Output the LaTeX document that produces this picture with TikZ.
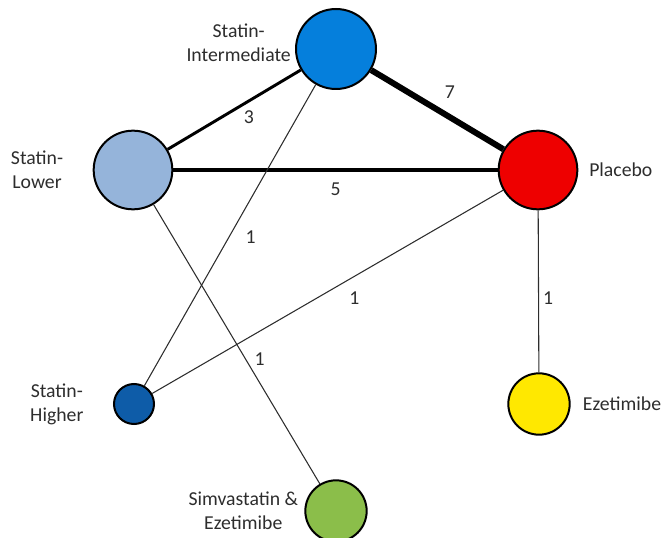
\documentclass[tikz,border=0pt]{standalone}
\usepackage{fontspec}
\setmainfont{Carlito}
\usepackage{xcolor}
\usetikzlibrary{positioning}

\definecolor{interblue}{RGB}{5,127,220}
\definecolor{lowblue}{RGB}{149,180,218}
\definecolor{highblue}{RGB}{14,92,168}
\definecolor{placred}{RGB}{238,0,0}
\definecolor{ezeyellow}{RGB}{255,232,0}
\definecolor{simgreen}{RGB}{139,190,74}
\definecolor{txtgray}{RGB}{45,45,45}

\tikzset{
  trt/.style={circle, draw=black, line width=1.5pt, inner sep=0pt},
  txt/.style={align=center, inner sep=0pt, text=txtgray},
  lbl/.style={inner sep=1pt, text=txtgray},
  w7/.style={line width=4.5pt},
  w5/.style={line width=3pt},
  w3/.style={line width=2.2pt},
  w1/.style={line width=0.8pt, draw=txtgray}
}

\begin{document}
\begin{tikzpicture}[x=0.75pt, y=-0.75pt, font=\fontsize{14.8pt}{18pt}\selectfont]
	\useasboundingbox (0,0) rectangle (663,538);
	% treatments
	\node [trt, fill=interblue, minimum size=60pt] (inter) at (336,49) {};
	\node [trt, fill=lowblue, minimum size=59pt] (low) at (133,170) {};
	\node [trt, fill=placred, minimum size=59pt] (plac) at (538,170) {};
	\node [trt, fill=highblue, minimum size=30pt] (high) at (134,404) {};
	\node [trt, fill=ezeyellow, minimum size=46pt] (eze) at (539,404) {};
	\node [trt, fill=simgreen, minimum size=46pt] (sim) at (336,511) {};
	% names
	\node [txt, left=3pt of inter, yshift=5pt] (intertxt) {Statin-\\Intermediate};
	\node [txt, left=22pt of low] (lowtxt) {Statin-\\Lower};
	\node [txt, right=8pt of plac] (plactxt) {Placebo};
	\node [txt, left=22pt of high] (hightxt) {Statin-\\Higher};
	\node [txt, right=9pt of eze] (ezetxt) {Ezetimibe};
	\node [txt, left=4.5pt of sim] (simtxt) {Simvastatin \&\\Ezetimibe};
	% comparisons
	\draw [w3] (low) -- node [lbl, pos=.61, below=5pt] {3} (inter);
	\draw [w7] (inter) -- node [lbl, pos=.595, above=11pt] {7} (plac);
	\draw [w5] (low) -- node [lbl, pos=.5, below=7pt] {5} (plac);
	\draw [w1] (inter) -- node [lbl, pos=.505, right=11pt] {1} (high);
	\draw [w1] (plac) -- node [lbl, pos=.424, below=10.5pt] {1} (high);
	\draw [w1] (low) -- node [lbl, pos=.552, right=5.5pt] {1} (sim);
	\draw [w1] (plac) -- node [lbl, pos=.54, right=2pt] {1} (eze);
\end{tikzpicture}
\end{document}
